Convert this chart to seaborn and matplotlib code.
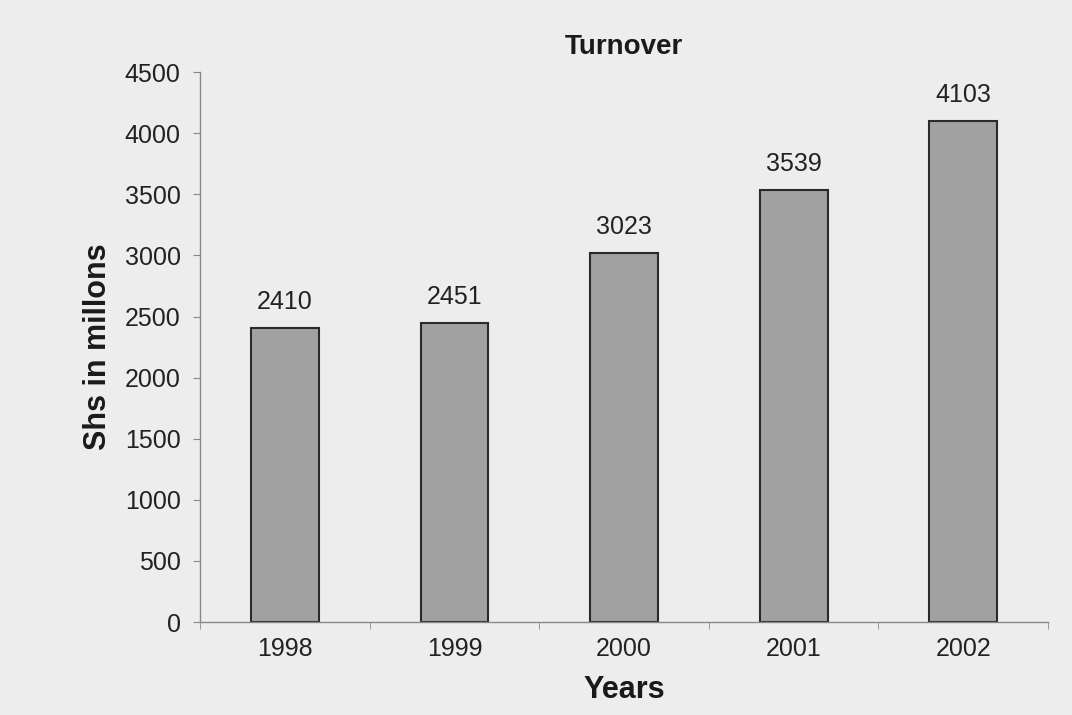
import matplotlib
matplotlib.use("Agg")
import matplotlib.pyplot as plt
import pandas as pd
import seaborn as sns

YEARS = ["1998", "1999", "2000", "2001", "2002"]
TURNOVER = [2410, 2451, 3023, 3539, 4103]
Y_TICKS = [0, 500, 1000, 1500, 2000, 2500, 3000, 3500, 4000, 4500]

BG = "#ededed"
BAR_COLOR = "#a1a1a1"


def main() -> None:
    sns.set_style("white")
    plt.rcParams["font.family"] = ["Liberation Sans", "DejaVu Sans"]

    df = pd.DataFrame({"year": YEARS, "turnover": TURNOVER})

    fig = plt.figure(figsize=(10.72, 7.15), dpi=100, facecolor=BG)
    ax = fig.add_axes([0.1866, 0.130, 0.791, 0.769])
    ax.set_facecolor(BG)

    sns.barplot(
        data=df, x="year", y="turnover", ax=ax,
        color=BAR_COLOR, width=0.4, edgecolor="#2a2a2a", linewidth=1.5,
        saturation=1,
    )

    # value labels above bars
    for i, v in enumerate(TURNOVER):
        ax.annotate(str(v), (i, v), xytext=(0, 10), textcoords="offset points",
                    ha="center", va="bottom", fontsize=18, color="#222222")

    ax.set_ylim(0, 4500)
    ax.set_xlim(-0.5, len(YEARS) - 0.5)
    ax.set_yticks(Y_TICKS)
    ax.tick_params(axis="y", labelsize=18, length=5, color="#888888",
                   labelcolor="#222222", pad=9, direction="out", left=True)
    # x ticks sit between categories
    ax.set_xticks(range(len(YEARS)))
    ax.set_xticklabels(YEARS)
    ax.set_xticks([i - 0.5 for i in range(len(YEARS) + 1)], minor=True)
    ax.tick_params(axis="x", which="major", length=0, labelsize=18,
                   labelcolor="#222222", pad=11)
    ax.tick_params(axis="x", which="minor", length=5, color="#888888",
                   direction="out", bottom=True)

    for side in ["top", "right"]:
        ax.spines[side].set_visible(False)
    for side in ["left", "bottom"]:
        ax.spines[side].set_color("#888888")
        ax.spines[side].set_linewidth(1.0)

    ax.set_title("Turnover", fontsize=20, fontweight="bold", pad=13,
                 color="#1a1a1a")
    ax.set_xlabel("Years", fontsize=22, fontweight="bold", labelpad=10,
                  color="#1a1a1a")
    ax.set_ylabel("Shs in millons", fontsize=22, fontweight="bold",
                  labelpad=8, color="#1a1a1a")

    fig.savefig("out.png", dpi=100, facecolor=BG)
    plt.close(fig)


if __name__ == "__main__":
    main()
